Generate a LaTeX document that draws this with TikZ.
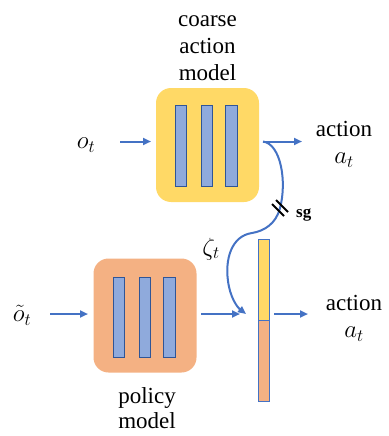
\documentclass[tikz,border=0pt]{standalone}
\usepackage{fontspec}
\setmainfont{Liberation Serif}
\usetikzlibrary{arrows.meta}
\definecolor{coarsefill}{HTML}{FFD966}
\definecolor{policyfill}{HTML}{F4B183}
\definecolor{layerfill}{HTML}{8FAADC}
\definecolor{layerline}{HTML}{2F5597}
\definecolor{flow}{HTML}{4472C4}
\tikzset{
  model/.style={rounded corners=15pt, inner sep=0pt, minimum width=103pt, minimum height=114pt},
  layer/.style={fill=layerfill, draw=layerline, line width=0.9pt, inner sep=0pt, minimum width=11.5pt, minimum height=81pt},
  flowarrow/.style={draw=flow, line width=2pt, -{Triangle[length=8pt,width=7pt]}},
  label/.style={inner sep=0pt, font=\fontsize{23}{27}\selectfont, align=center},
  mathlabel/.style={inner sep=0pt, font=\fontsize{24}{28}\selectfont},
  segment/.style={draw=flow, line width=0.9pt, inner sep=0pt, minimum width=11pt, minimum height=81pt},
  sgmark/.style={draw=black, line width=2pt}
}
\begin{document}
\begin{tikzpicture}[x=1pt,y=-1pt]
\useasboundingbox (0,0) rectangle (388,436);

% coarse action model
\node[model, fill=coarsefill] (coarse) at (207.5,145) {};
\node[layer] (c1) at (181,145.5) {};
\node[layer] (c2) at (207,145.5) {};
\node[layer] (c3) at (231.5,145.5) {};
\node[label, anchor=south] (coarsetext) at (207.5,81) {coarse\\action\\model};

% policy model
\node[model, fill=policyfill] (policy) at (145,315.5) {};
\node[layer, minimum height=80pt] (p1) at (119,317) {};
\node[layer, minimum height=80pt] (p2) at (145,317) {};
\node[layer, minimum height=80pt] (p3) at (169.5,317) {};
\node[label, anchor=north, font=\fontsize{23}{25}\selectfont] (policytext) at (147,387) {policy\\model};

% concatenated feature bar
\node[segment, fill=coarsefill, anchor=north] (bartop) at (263.5,239) {};
\node[segment, fill=policyfill, anchor=north] (barbot) at (263.5,320) {};

% inputs
\node[mathlabel] (obs) at (86,145) {$o_t$};
\node[mathlabel] (obsaug) at (22,315) {$\tilde{o}_t$};
\coordinate (obsin) at (120,141.5);
\coordinate (obsend) at (151,141.5);
\coordinate (obsaugin) at (50,314);
\coordinate (obsaugend) at (88,314);
\draw[flowarrow] (obsin) -- (obsend);
\draw[flowarrow] (obsaugin) -- (obsaugend);

% outputs
\node[label, anchor=north] (act1) at (344,121) {action\\$a_t$};
\node[label, anchor=north] (act2) at (354,295) {action\\$a_t$};
\coordinate (split) at (263,141.5);
\coordinate (out1) at (302,141.5);
\draw[flowarrow] (split) -- (out1);
\coordinate (pout) at (201,314);
\coordinate (pin) at (240,314);
\draw[flowarrow] (pout) -- (pin);
\coordinate (bout) at (274,314);
\coordinate (bend) at (308,314);
\draw[flowarrow] (bout) -- (bend);

% latent passed from the coarse model, with stop-gradient
\coordinate (sg) at (280,208);
\coordinate (zin) at (246,314);
\draw[flowarrow] (split) .. controls (281,144) and (287,182) .. (sg)
  .. controls (276,224) and (264,231) .. (252,233)
  .. controls (231,236) and (225,260) .. (228,281)
  .. controls (230,297) and (237,307) .. (zin);
\draw[sgmark] ([shift={(-8,-4)}]sg) -- ([shift={(4,8)}]sg);
\draw[sgmark] ([shift={(-4,-8)}]sg) -- ([shift={(8,4)}]sg);
\node[inner sep=0pt, anchor=base west, font=\fontsize{17}{20}\selectfont\bfseries] (sglabel) at (296,217) {sg};
\node[mathlabel] (zeta) at (211,249) {$\zeta_t$};
\end{tikzpicture}
\end{document}
